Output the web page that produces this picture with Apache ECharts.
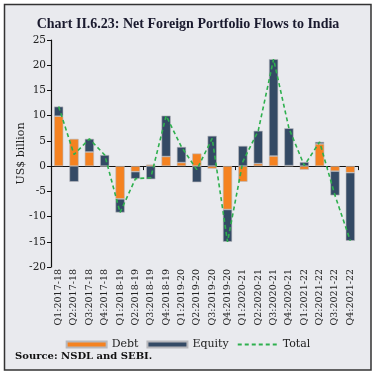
<!DOCTYPE html>
<html><head><meta charset="utf-8">
<script src="https://cdn.jsdelivr.net/npm/echarts@6/dist/echarts.min.js"></script>
<style>html,body{margin:0;padding:0;background:#fff}#c{width:376px;height:376px}</style>
</head><body><div id="c"></div>
<script>
var categories = ['Q1:2017-18','Q2:2017-18','Q3:2017-18','Q4:2017-18','Q1:2018-19','Q2:2018-19','Q3:2018-19','Q4:2018-19','Q1:2019-20','Q2:2019-20','Q3:2019-20','Q4:2019-20','Q1:2020-21','Q2:2020-21','Q3:2020-21','Q4:2020-21','Q1:2021-22','Q2:2021-22','Q3:2021-22','Q4:2021-22'];
var debt = [9.9, 5.4, 2.8, 0.0, -6.5, -1.1, 0.3, 1.9, 0.7, 2.5, -0.5, -8.6, -3.1, 0.5, 2.0, 0.1, -0.7, 4.4, -1.0, -1.3];
var equity = [1.9, -3.1, 2.6, 2.2, -2.7, -1.4, -2.6, 8.1, 3.1, -3.2, 6.0, -6.4, 4.0, 6.5, 19.2, 7.4, 0.8, 0.4, -4.8, -13.5];
var total = [11.8, 2.3, 5.4, 2.2, -9.2, -2.5, -2.3, 10.0, 3.8, -0.7, 5.5, -15.0, 0.9, 7.0, 21.2, 7.5, 0.1, 4.8, -5.8, -14.8];
var yTicks = [-20, -15, -10, -5, 0, 5, 10, 15, 20, 25];

var serif = '"DejaVu Serif", "Liberation Serif", serif';
var chart = echarts.init(document.getElementById('c'), null, {renderer: 'canvas'});
chart.setOption({
  backgroundColor: '#ffffff',
  animation: false,
  graphic: [{
    type: 'rect', z: -10, silent: true,
    shape: {x: 4.5, y: 4.5, width: 366.5, height: 365.5},
    style: {fill: '#e9eaee', stroke: '#333', lineWidth: 1.5}
  }, {
    type: 'text', left: 15, top: 351, silent: true,
    style: {text: 'Source: NSDL and SEBI.', fontFamily: serif, fontWeight: 'bold', fontSize: 10, fill: '#111'}
  }],
  title: {
    text: 'Chart II.6.23: Net Foreign Portfolio Flows to India',
    left: 'center', top: 12,
    textStyle: {fontFamily: '"Liberation Serif", serif', fontWeight: 'bold', fontSize: 14, color: '#1a1a2e'}
  },
  legend: {
    top: 334, left: 'center', itemGap: 8,
    itemWidth: 40, itemHeight: 6,
    textStyle: {fontFamily: serif, fontSize: 11, color: '#222'},
    data: [
      {name: 'Debt', icon: 'rect'},
      {name: 'Equity', icon: 'rect'},
      {name: 'Total', itemStyle: {opacity: 0}}
    ]
  },
  grid: {left: 51, right: 18, top: 40, bottom: 109, containLabel: false},
  xAxis: [{
    type: 'category', data: categories,
    axisLine: {onZero: true, lineStyle: {color: '#111', width: 1.2}},
    axisTick: {show: true, inside: false, length: 4, alignWithLabel: false, lineStyle: {color: '#111'}},
    axisLabel: {show: false}
  }, {
    type: 'category', data: categories, position: 'bottom',
    axisLine: {show: false, onZero: false}, axisTick: {show: false},
    axisLabel: {rotate: 90, interval: 0, margin: 2, fontFamily: serif, fontSize: 9.5, color: '#222'}
  }],
  yAxis: {
    type: 'value', min: -20, max: 25, interval: 5,
    name: 'US$ billion', nameLocation: 'middle', nameGap: 24, nameMoveOverlap: false,
    nameTextStyle: {fontFamily: serif, fontSize: 11, color: '#222'},
    axisLine: {show: true, lineStyle: {color: '#111', width: 1.2}},
    axisTick: {show: true, length: 4, lineStyle: {color: '#111'}},
    axisLabel: {fontFamily: serif, fontSize: 10.5, color: '#222', margin: 5},
    splitLine: {show: false}
  },
  series: [{
    name: 'Debt', type: 'bar', stack: 'a', data: debt, barWidth: '60%',
    itemStyle: {color: '#f58220', borderColor: '#b8b8bc', borderWidth: 0.6}
  }, {
    name: 'Equity', type: 'bar', stack: 'a', data: equity, barWidth: '60%',
    itemStyle: {color: '#344a65', borderColor: '#b8b8bc', borderWidth: 0.6}
  }, {
    name: 'Total', type: 'line', data: total, showSymbol: false, symbol: 'none',
    lineStyle: {color: '#2eb04e', width: 1.6, type: [4, 3]},
    itemStyle: {color: '#2eb04e'}, z: 5
  }]
});
</script>
</body></html>
